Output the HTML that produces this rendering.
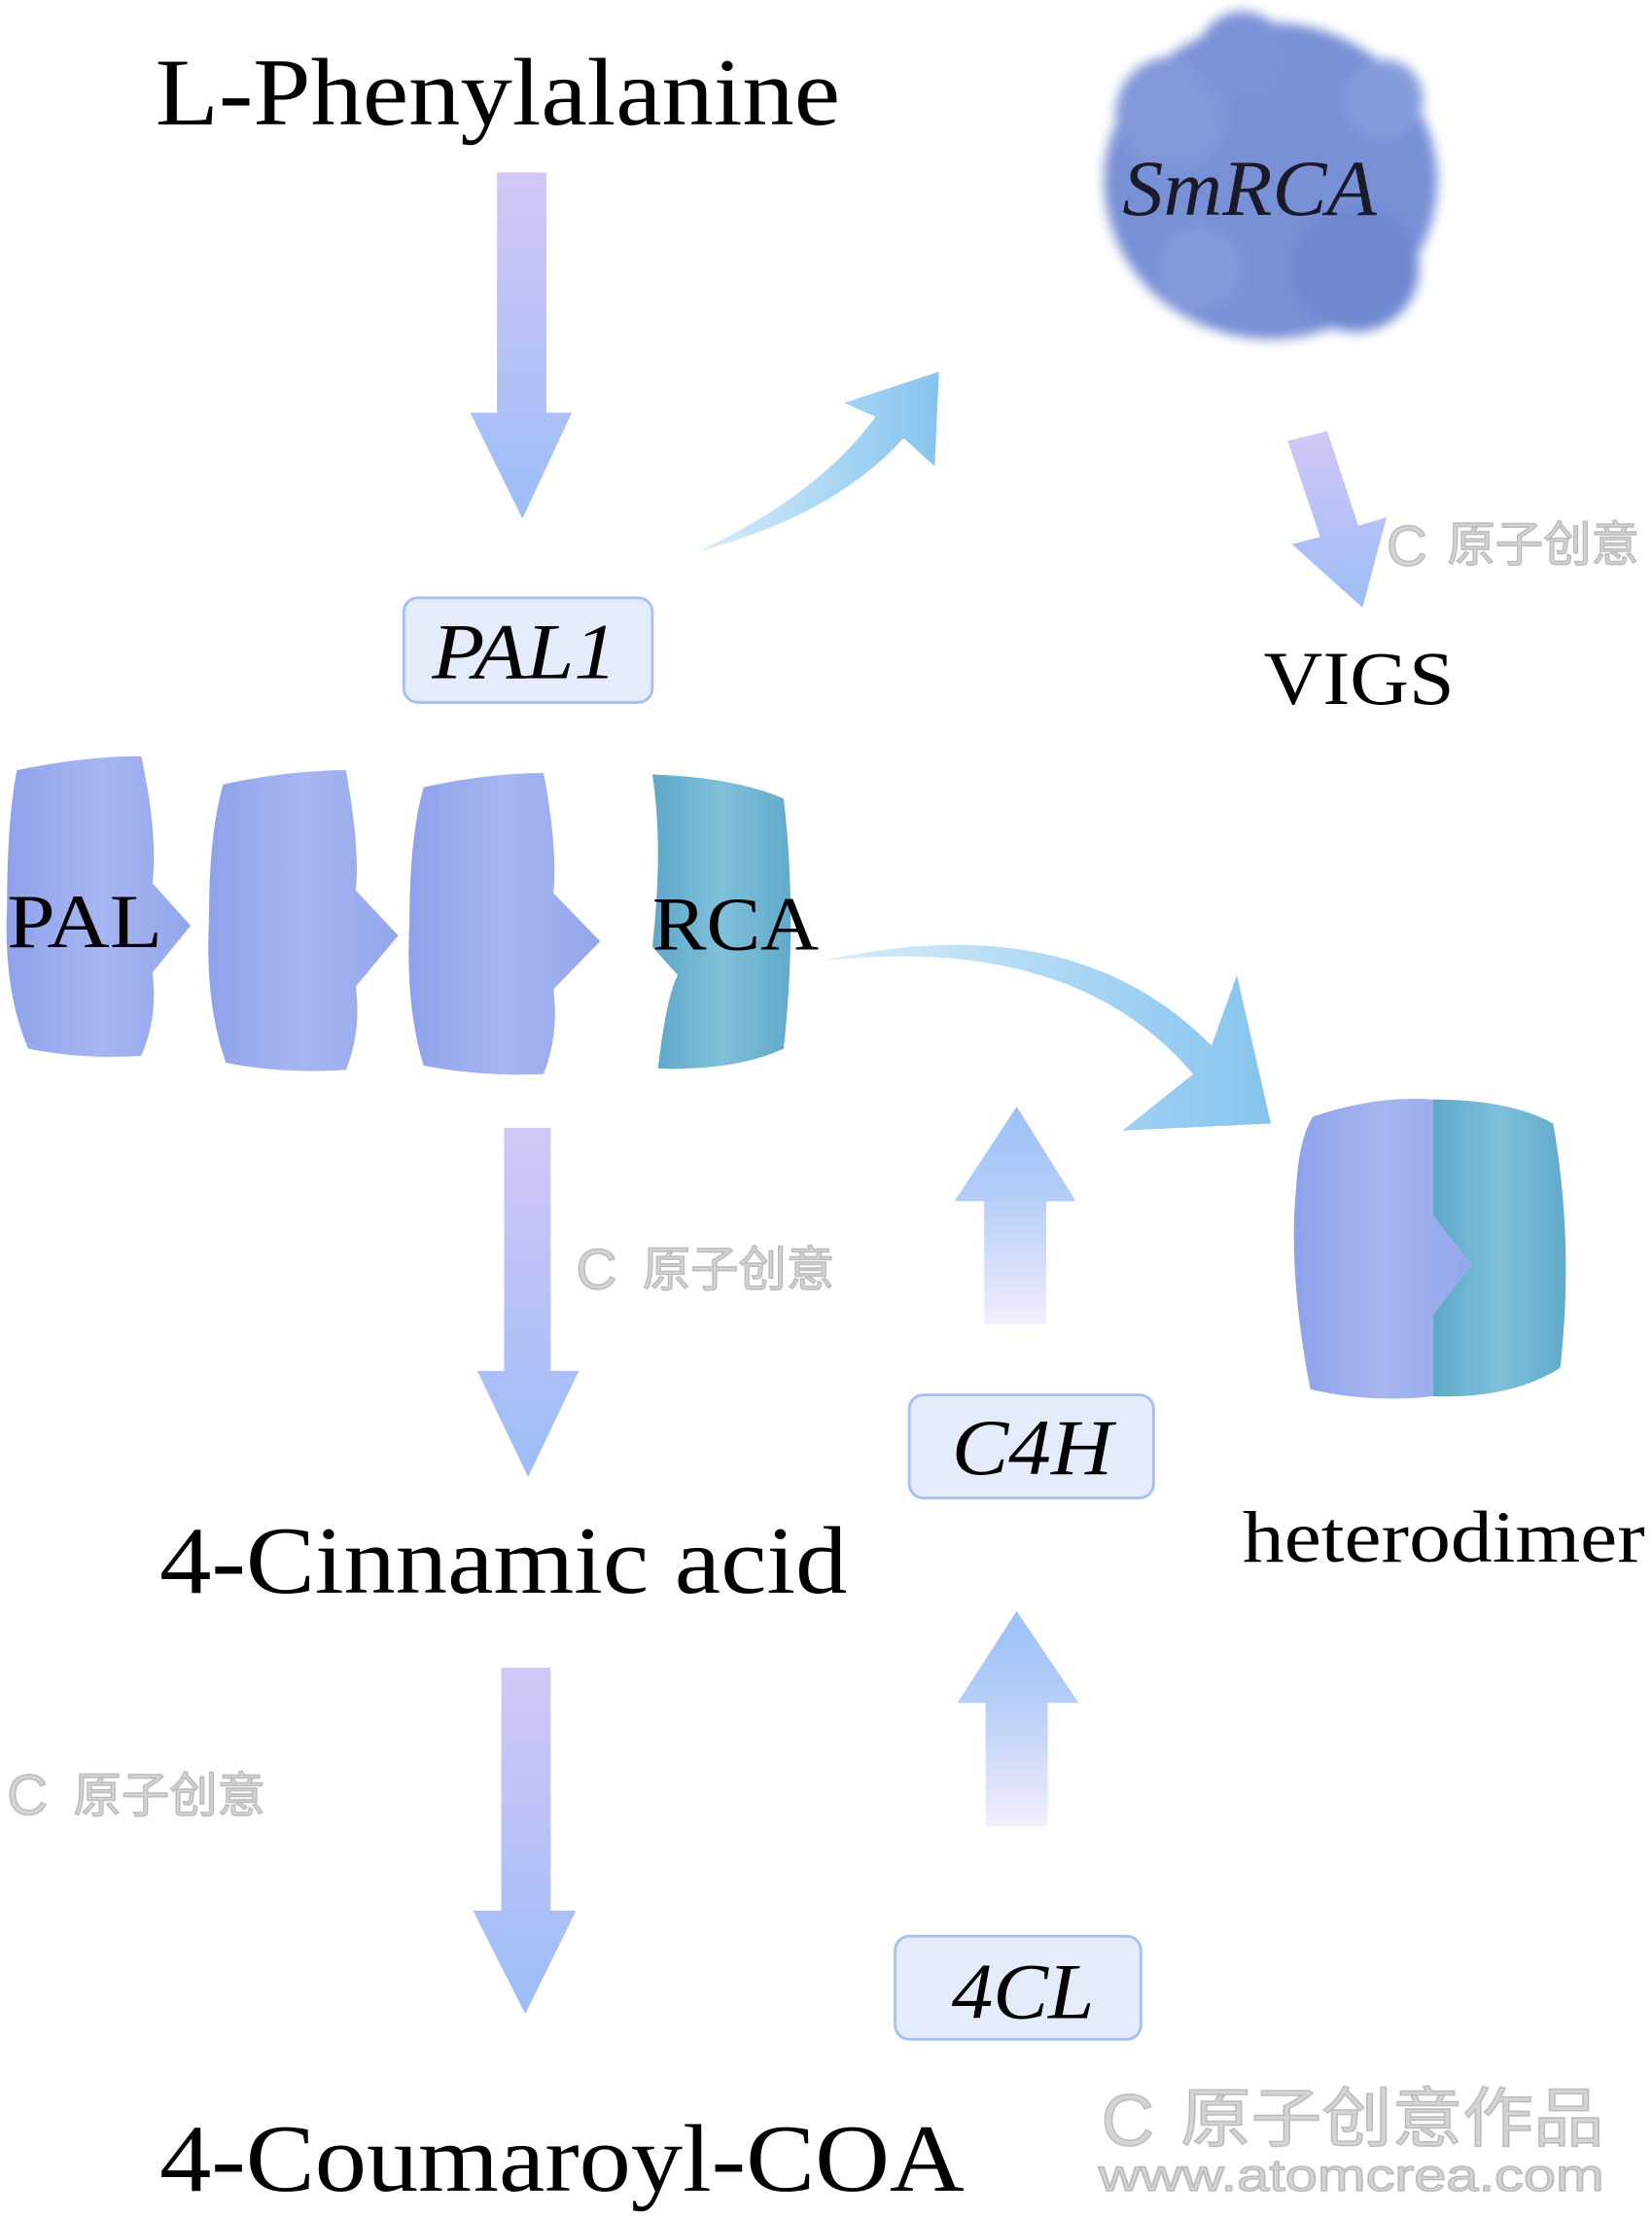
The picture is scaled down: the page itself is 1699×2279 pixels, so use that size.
<!DOCTYPE html>
<html><head><meta charset="utf-8"><style>
html,body{margin:0;padding:0;background:#fff;}
svg{display:block;}
text{font-family:"Liberation Serif","Noto Serif CJK SC",serif;}
.wm{font-family:"Liberation Sans","Noto Sans CJK SC",sans-serif;fill:#d4d4d4;stroke:#bbb;stroke-width:1;}
</style></head><body>
<svg width="1699" height="2279" viewBox="0 0 1170 1568" preserveAspectRatio="none" xmlns="http://www.w3.org/2000/svg">
<defs>
<linearGradient id="dn" x1="0" y1="0" x2="0" y2="1"><stop offset="0" stop-color="#d3c6f6"/><stop offset="1" stop-color="#9cbdf7"/></linearGradient>
<linearGradient id="up" x1="0" y1="1" x2="0" y2="0"><stop offset="0" stop-color="#f2eefc"/><stop offset="0.6" stop-color="#b4cdf8"/><stop offset="1" stop-color="#9cc0f7"/></linearGradient>
<linearGradient id="cv" x1="0" y1="0" x2="1" y2="0"><stop offset="0" stop-color="#d8eefb"/><stop offset="1" stop-color="#86c3ee"/></linearGradient>
<linearGradient id="pal" x1="0" y1="0" x2="1" y2="0"><stop offset="0" stop-color="#8fa2ea"/><stop offset="0.5" stop-color="#a7b6f1"/><stop offset="1" stop-color="#94a6ec"/></linearGradient>
<linearGradient id="teal" x1="0" y1="0" x2="1" y2="0"><stop offset="0" stop-color="#5fa8c8"/><stop offset="0.5" stop-color="#7fc0da"/><stop offset="1" stop-color="#62aacb"/></linearGradient>
<filter id="bl"><feGaussianBlur stdDeviation="4"/></filter>
</defs>

<text x="110" y="88" font-size="68" textLength="485" lengthAdjust="spacingAndGlyphs">L-Phenylalanine</text>
<polygon points="352,122 387,122 387,292 405,292 370,367 333,292 352,292" fill="url(#dn)"/>

<g filter="url(#bl)">
<ellipse cx="900" cy="128" rx="118" ry="112" fill="#7890d6"/>
<circle cx="830" cy="80" r="40" fill="#8298da"/>
<circle cx="960" cy="190" r="45" fill="#6f88d2"/>
<circle cx="880" cy="40" r="32" fill="#7c92d8"/>
<circle cx="980" cy="70" r="28" fill="#859bdc"/>
<circle cx="850" cy="190" r="30" fill="#8499da"/>
</g>
<text x="795" y="152" font-size="56" font-style="italic" fill="#1a1a2a" textLength="180" lengthAdjust="spacingAndGlyphs">SmRCA</text>

<path d="M495,390 Q580,350 620,295 L598,285 L665,263 L662,330 L640,310 Q590,365 495,390 Z" fill="url(#cv)"/>
<polygon points="912,312 940,305 962,372 982,366 965,430 915,385 935,380" fill="url(#dn)"/>

<text class="wm" x="1025" y="397" font-size="34">原子创意</text>
<text class="wm" x="982" y="400" font-size="40">C</text>

<rect x="286" y="423" width="176" height="74" rx="10" fill="#e4ebfb" stroke="#a8c0f0" stroke-width="2"/>
<text x="306" y="480" font-size="56" font-style="italic" textLength="131" lengthAdjust="spacingAndGlyphs">PAL1</text>
<text x="895" y="498" font-size="54" textLength="135" lengthAdjust="spacingAndGlyphs">VIGS</text>

<path d="M12,545 Q60,535 100,535 Q112,590 108,625 L135,655 L108,688 Q112,720 100,747 Q60,750 20,742 Q2,700 5,640 Q5,580 12,545 Z" fill="url(#pal)"/>
<path d="M158,555 Q205,545 245,545 Q255,600 252,630 L282,662 L252,698 Q256,730 245,757 Q200,760 160,752 Q145,710 148,650 Q148,590 158,555 Z" fill="url(#pal)"/>
<path d="M300,557 Q345,547 385,547 Q395,600 392,632 L425,666 L392,700 Q396,732 385,760 Q340,762 300,754 Q287,712 290,652 Q290,592 300,557 Z" fill="url(#pal)"/>
<path d="M462,548 Q520,550 555,565 Q565,650 555,742 Q520,758 466,756 Q472,705 480,690 L462,670 Q470,600 462,548 Z" fill="url(#teal)"/>
<text x="5" y="670" font-size="54" textLength="110" lengthAdjust="spacingAndGlyphs">PAL</text>
<text x="462" y="672" font-size="54" textLength="118" lengthAdjust="spacingAndGlyphs">RCA</text>

<path d="M582,680 Q760,660 845,760 L795,800 L900,795 L876,690 L858,740 Q760,640 582,680 Z" fill="url(#cv)"/>

<polygon points="357,798 390,798 390,970 410,970 374,1045 338,970 357,970" fill="url(#dn)"/>
<text class="wm" x="455" y="910" font-size="34">原子创意</text>
<text class="wm" x="408" y="912" font-size="40">C</text>

<polygon points="720,783 762,850 741,850 741,937 697,937 697,850 676,850" fill="url(#up)"/>

<path d="M930,790 Q975,775 1015,778 L1015,860 L1042,895 L1015,930 L1015,988 Q970,993 928,983 Q912,900 918,840 Q920,805 930,790 Z" fill="url(#pal)"/>
<path d="M1015,778 Q1070,778 1100,795 Q1115,880 1105,968 Q1070,990 1015,988 L1015,930 L1042,895 L1015,860 Z" fill="url(#teal)"/>

<rect x="644" y="987" width="173" height="73" rx="10" fill="#e4ebfb" stroke="#a8c0f0" stroke-width="2"/>
<text x="674" y="1043" font-size="56" font-style="italic" textLength="114" lengthAdjust="spacingAndGlyphs">C4H</text>
<text x="880" y="1105" font-size="52" textLength="285" lengthAdjust="spacingAndGlyphs">heterodimer</text>
<text x="113" y="1127" font-size="68" textLength="487" lengthAdjust="spacingAndGlyphs">4-Cinnamic acid</text>

<polygon points="355,1180 390,1180 390,1352 408,1352 372,1425 335,1352 355,1352" fill="url(#dn)"/>
<polygon points="720,1140 764,1205 742,1205 742,1292 698,1292 698,1205 678,1205" fill="url(#up)"/>
<text class="wm" x="52" y="1282" font-size="34">原子创意</text>
<text class="wm" x="5" y="1284" font-size="40">C</text>

<rect x="634" y="1370" width="174" height="73" rx="10" fill="#e4ebfb" stroke="#a8c0f0" stroke-width="2"/>
<text x="674" y="1428" font-size="56" font-style="italic" textLength="101" lengthAdjust="spacingAndGlyphs">4CL</text>
<text x="113" y="1550" font-size="68" textLength="570" lengthAdjust="spacingAndGlyphs">4-Coumaroyl-COA</text>

<text class="wm" x="836" y="1515" font-size="46" textLength="300" lengthAdjust="spacingAndGlyphs">原子创意作品</text>
<text class="wm" x="780" y="1518" font-size="52">C</text>
<text class="wm" x="778" y="1550" font-size="32" textLength="358" lengthAdjust="spacingAndGlyphs">www.atomcrea.com</text>
</svg>
</body></html>
